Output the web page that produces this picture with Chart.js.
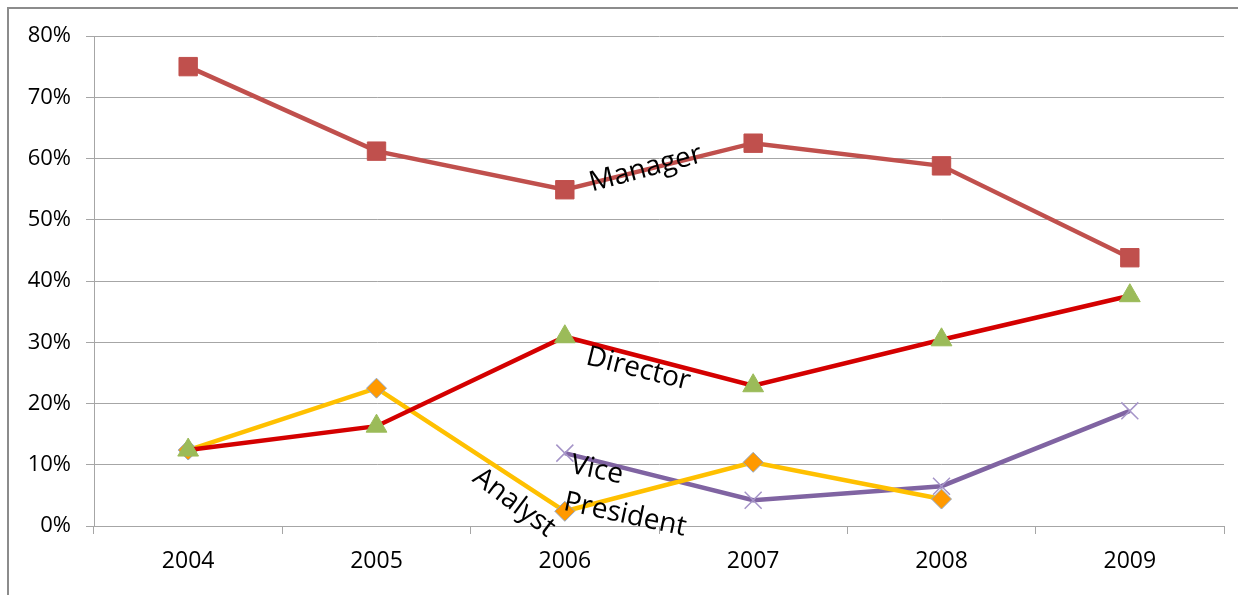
<!DOCTYPE html>
<html>
<head>
<meta charset="utf-8">
<script src="https://cdn.jsdelivr.net/npm/chart.js@4"></script>
<style>
  html, body { margin: 0; background: #fff; overflow: hidden; }
  #wrap { position: relative; width: 1238px; height: 595px; }
  #frame { position: absolute; left: 7px; top: 7px; width: 1229px; height: 586px;
           border-left: 2px solid #8c8c8c; border-top: 2px solid #8c8c8c; }
</style>
</head>
<body>
<div id="wrap">
  <canvas id="chart" width="1238" height="595"></canvas>
  <div id="frame"></div>
</div>
<script>
const years = ["2004", "2005", "2006", "2007", "2008", "2009"];
const manager = [75.0, 61.2, 54.9, 62.5, 58.8, 43.8];
const director = [12.4, 16.3, 30.9, 22.9, 30.4, 37.6];
const analyst = [12.4, 22.5, 2.4, 10.4, 4.4, null];
const vicePresident = [null, null, 11.9, 4.2, 6.5, 18.8];

// text labels beside the lines: [text, category index, value, angle in degrees]
const lineLabels = [
  ["Manager", 2.43, 58.3, -15],
  ["Director", 2.39, 25.6, 14],
  ["Analyst", 1.73, 3.8, 37],
  ["Vice", 2.17, 9.1, 12],
  ["President", 2.32, 1.8, 12]
];

const gridColor = "#a6a6a6";

const labelPlugin = {
  id: "lineLabels",
  afterDatasetsDraw(chart) {
    const ctx = chart.ctx;
    const xs = chart.scales.x, ys = chart.scales.y;
    ctx.save();
    ctx.font = "28px 'Open Sans'";
    ctx.fillStyle = "#000";
    ctx.textAlign = "center";
    ctx.textBaseline = "middle";
    lineLabels.forEach(([txt, xi, yv, ang]) => {
      ctx.save();
      ctx.translate(xs.getPixelForValue(xi), ys.getPixelForValue(yv));
      ctx.rotate(ang * Math.PI / 180);
      ctx.fillText(txt, 0, 0);
      ctx.restore();
    });
    ctx.restore();
  }
};

new Chart(document.getElementById("chart"), {
  type: "line",
  data: {
    labels: years,
    datasets: [
      {
        label: "Manager",
        data: manager,
        borderColor: "#c0504d",
        borderWidth: 4.5,
        pointStyle: "rect",
        pointRadius: 13,
        pointBackgroundColor: "#c0504d",
        pointBorderColor: "#c0504d",
        pointBorderWidth: 1
      },
      {
        label: "Director",
        data: director,
        borderColor: "#d40000",
        borderWidth: 4.5,
        pointStyle: "triangle",
        pointRadius: 12,
        pointBackgroundColor: "#9bbb59",
        pointBorderColor: "#9bbb59",
        pointBorderWidth: 1
      },
      {
        label: "Analyst",
        data: analyst,
        borderColor: "#ffc000",
        borderWidth: 4.5,
        pointStyle: "rectRot",
        pointRadius: 10,
        pointBackgroundColor: "#ff9900",
        pointBorderColor: "#8fa6c6",
        pointBorderWidth: 1
      },
      {
        label: "Vice President",
        data: vicePresident,
        borderColor: "#8064a2",
        borderWidth: 4.5,
        pointStyle: "crossRot",
        pointRadius: 12,
        pointBorderColor: "#a594c8",
        pointBorderWidth: 1.5
      }
    ]
  },
  options: {
    responsive: false,
    animation: false,
    events: [],
    layout: { padding: { top: 36, right: 8, left: 0, bottom: 0 } },
    plugins: { legend: { display: false }, tooltip: { enabled: false } },
    scales: {
      x: {
        offset: true,
        afterFit: s => { s.height = 69; s.paddingLeft = 0; s.paddingRight = 0; },
        grid: { offset: true, drawOnChartArea: false, drawTicks: true, tickLength: 8, color: gridColor },
        border: { color: gridColor },
        ticks: { color: "#000", padding: 14, font: { family: "'Open Sans'", size: 23 } }
      },
      y: {
        min: 0,
        max: 80,
        afterFit: s => { s.width = 94; },
        grid: { color: gridColor, tickLength: 8 },
        border: { color: gridColor },
        ticks: {
          stepSize: 10,
          color: "#000",
          padding: 15,
          font: { family: "'Open Sans'", size: 22 },
          callback: v => v + "%"
        }
      }
    }
  },
  plugins: [labelPlugin]
});
</script>
</body>
</html>
